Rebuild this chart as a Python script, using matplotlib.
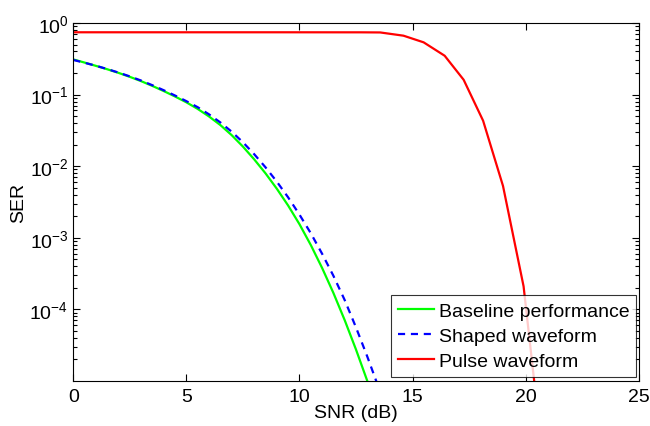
import matplotlib
matplotlib.use("Agg")
import matplotlib.pyplot as plt
from matplotlib.ticker import LogLocator, NullFormatter, FixedLocator

plt.rcParams['font.family'] = ['Liberation Sans', 'DejaVu Sans']
plt.rcParams['mathtext.fontset'] = 'custom'
plt.rcParams['mathtext.rm'] = 'Liberation Sans'
plt.rcParams['mathtext.it'] = 'Liberation Sans'

snr_fine = [0, 0.5, 1, 1.5, 2, 2.5, 3, 3.5, 4, 4.5, 5, 5.5, 6, 6.5, 7, 7.5,
            8, 8.5, 9, 9.5, 10, 10.5, 11, 11.5, 12, 12.5, 13, 13.5]
baseline = [0.31, 0.28, 0.252, 0.226, 0.201, 0.177, 0.154, 0.132, 0.112, 0.094,
            0.078, 0.0631, 0.0495, 0.0376, 0.0272, 0.0188, 0.01245, 7.94e-3,
            4.84e-3, 2.82e-3, 1.55e-3, 7.94e-4, 3.80e-4, 1.70e-4, 7.08e-5,
            2.75e-5, 1.0e-5, 3.4e-6]
shaped = [0.305, 0.278, 0.253, 0.2275, 0.203, 0.1795, 0.157, 0.135, 0.115, 0.097,
          0.081, 0.0667, 0.0530, 0.0409, 0.0304, 0.0216, 0.0147, 9.64e-3,
          6.08e-3, 3.67e-3, 2.11e-3, 1.16e-3, 6.0e-4, 2.95e-4, 1.35e-4,
          5.6e-5, 2.19e-5, 8.1e-6]

snr_pulse = [0, 3, 6, 9, 12, 12.7, 13.57, 14.60, 15.49, 16.42, 17.26, 18.12,
             19.0, 19.91, 20.8]
pulse = [0.742, 0.742, 0.742, 0.742, 0.741, 0.741, 0.738, 0.665, 0.537, 0.349,
         0.161, 0.0432, 0.0053, 2.1e-4, 6.5e-7]

labels = ['Baseline performance', 'Shaped waveform', 'Pulse waveform']
xticks = [0, 5, 10, 15, 20, 25]
yticks = [1e-4, 1e-3, 1e-2, 1e-1, 1e0]

fig = plt.figure(figsize=(6.5, 4.27), dpi=100)
ax = fig.add_axes([73.3/650, 1-382/427, (638.7-73.3)/650, (382-24)/427])

ax.semilogy(snr_fine, baseline, color=(0, 1, 0), lw=1.6, label=labels[0])
ax.semilogy(snr_fine, shaped, color=(0, 0, 1), lw=1.6, ls=(0, (3.2, 2.6)), label=labels[1])
ax.semilogy(snr_pulse, pulse, color=(1, 0, 0), lw=1.6, label=labels[2])

ax.set_xlim(0, 25)
ax.set_ylim(1e-5, 1)
ax.xaxis.set_major_locator(FixedLocator(xticks))
ax.yaxis.set_major_locator(FixedLocator(yticks))
ax.yaxis.set_minor_locator(LogLocator(base=10, subs=range(2, 10), numticks=20))
ax.yaxis.set_minor_formatter(NullFormatter())
ax.tick_params(which='both', direction='in', top=True, right=True, labelsize=14)
ax.tick_params(which='major', length=5, width=0.8)
ax.tick_params(which='minor', length=3, width=0.8)
ax.tick_params(axis='x', which='major', pad=5)
ax.tick_params(axis='y', which='major', pad=3.5)
for s in ax.spines.values():
    s.set_linewidth(0.8)

ax.set_xlabel('SNR (dB)', fontsize=14, labelpad=-1)
ax.set_ylabel('SER', fontsize=14, labelpad=2)

leg = ax.legend(loc='lower right', fontsize=14, frameon=True, fancybox=False,
                edgecolor='black', borderaxespad=0.0,
                bbox_to_anchor=(636/650, 1-377.5/427), bbox_transform=fig.transFigure,
                handlelength=1.85, handletextpad=0.25, labelspacing=0.38, borderpad=0.35)
leg.get_frame().set_linewidth(0.8)

fig.savefig('out.png', dpi=100)
